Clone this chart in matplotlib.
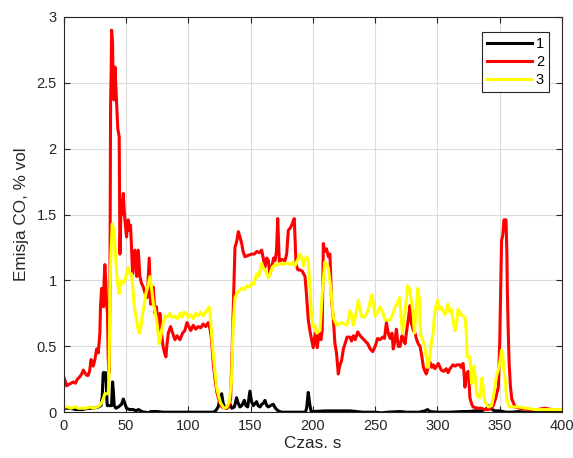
import matplotlib
matplotlib.use("Agg")
import matplotlib.pyplot as plt

plt.rcParams['font.family'] = ['Liberation Sans', 'DejaVu Sans']

# Series 1 (black)
t1 = [0, 5, 10, 15, 20, 24, 28, 30, 31, 31.8, 33.7, 34.3, 35, 37, 38.5, 39.3, 40, 40.6, 42, 44, 46.5,
      47.9, 49, 50.5, 53, 56, 58, 60, 62, 64, 66, 68, 70, 75, 80, 90, 100, 110, 120, 122, 124, 125.5,
      126.8, 128, 129.5, 130.9, 133.6, 135, 137, 138.8, 140, 141.5, 143, 145, 146.3, 147.7, 149.5,
      150.8, 152.2, 154.9, 156, 157.6, 159, 160.5, 161.6, 163, 164.3, 166, 168.2, 170, 172.2, 175,
      185, 194, 195, 196.3, 197.5, 198.5, 200, 210, 220, 230, 240, 250, 255, 260, 270, 275, 285, 290,
      292, 294, 300, 310, 320, 325, 330, 335, 338, 340, 341, 342, 344, 346, 350, 355, 360, 365, 370,
      380, 390, 400]
v1 = [0.03, 0.03, 0.02, 0.02, 0.03, 0.03, 0.04, 0.05, 0.12, 0.30, 0.30, 0.20, 0.05, 0.05, 0.05, 0.23,
      0.15, 0.05, 0.03, 0.04, 0.06, 0.10, 0.07, 0.03, 0.02, 0.02, 0.01, 0.02, 0.01, 0.0, 0.0, -0.005,
      0.005, 0.005, 0.0, 0.0, 0.0, 0.0, 0.0, 0.01, 0.04, 0.10, 0.14, 0.07, 0.03, 0.03, 0.06, 0.03,
      0.04, 0.11, 0.07, 0.04, 0.05, 0.09, 0.05, 0.04, 0.16, 0.08, 0.05, 0.08, 0.05, 0.04, 0.06, 0.07,
      0.09, 0.05, 0.04, 0.05, 0.06, 0.03, 0.01, 0.0, 0.0, 0.0, 0.03, 0.15, 0.06, 0.01, 0.005, 0.01,
      0.01, 0.01, 0.0, 0.0, -0.005, 0.0, 0.005, 0.0, 0.0, 0.01, 0.02, 0.005, 0.0, 0.0, 0.005, 0.005,
      0.01, 0.01, 0.02, 0.03, 0.05, 0.03, 0.02, 0.01, 0.01, 0.0, 0.0, 0.005, 0.0, 0.0, 0.0, 0.0]

# Series 2 (red)
t2 = [0, 1.5, 2.4, 4, 6, 7.7, 9.5, 11, 13.1, 14.5, 15.8, 17, 18.5, 19.8, 21, 22, 23, 23.8, 25.1, 26.5,
      27.8, 29.1, 29.6, 30.5, 31.3, 32, 32.5, 33.1, 33.8, 34.5, 35.2, 35.8, 36.6, 37.2, 37.7, 38.2,
      38.5, 39.3, 39.8, 40.4, 41.2, 42.0, 42.5, 43.5, 44.6, 45.2, 45.8, 46.5, 47.2, 47.9, 48.5, 49.2,
      50.5, 51.2, 51.9, 52.8, 53.7, 54.5, 55.4, 56.3, 57.2, 58.6, 59.9, 61.2, 62.5, 63.9, 65.5, 67.1,
      68.7, 69.8, 71, 71.9, 73.3, 74.5, 76, 77.3, 78.5, 80, 81, 82.1, 83, 84, 85.8, 87.5, 89.3, 91,
      93.3, 95.5, 97.3, 99, 100, 102, 104, 106, 108, 110, 112, 114, 116, 117.5, 118.7, 120, 121.5,
      123, 125, 127, 130, 132.5, 134, 135, 136.5, 137.5, 139, 140.2, 141.5, 142.9, 144, 145.5, 148,
      150.9, 153, 155, 157, 158.9, 160, 161.6, 163, 164.3, 165.5, 167, 168.5, 169.6, 170.8, 171.8,
      173.1, 175, 177.6, 179, 180.3, 182, 183, 185.1, 186.5, 188, 189.7, 191.5, 193.7, 195, 196.3,
      198, 200.3, 202, 203.5, 205, 206.5, 207.5, 208.4, 209.5, 211, 212.5, 213.7, 215, 216.5, 217.7,
      219, 220.4, 221.5, 223, 224.5, 225.8, 227.5, 229.8, 231, 232.5, 234, 236, 238, 240, 242, 244,
      246, 248, 250, 252, 254, 256, 257.5, 259, 260.5, 262, 263.5, 264.5, 266, 267, 268.5, 270,
      271.5, 272.7, 274, 275, 276.5, 278, 279, 280.6, 282, 283, 284.5, 286, 287.5, 288.7, 290, 291,
      292.5, 294, 295.5, 296.6, 298, 300.6, 303, 305, 307, 308.5, 310, 312.5, 314, 316, 317.8, 319,
      320.5, 321.3, 322, 323, 324.6, 325.5, 326, 327.5, 328.6, 332, 335, 338, 340.7, 343, 344.7,
      346.5, 348.8, 350, 351.4, 352.5, 353.3, 355, 355.7, 356, 356.8, 357.5, 358.5, 359.6, 362.3,
      366, 373, 380, 386, 392, 400]
v2 = [0.27, 0.23, 0.20, 0.21, 0.22, 0.23, 0.22, 0.25, 0.27, 0.29, 0.32, 0.30, 0.28, 0.28, 0.32, 0.40,
      0.38, 0.35, 0.40, 0.48, 0.45, 0.60, 0.80, 0.94, 0.90, 0.80, 1.00, 1.12, 1.00, 0.82, 0.75, 0.40,
      0.30, 1.00, 2.34, 2.60, 2.90, 2.80, 2.40, 2.37, 2.62, 2.45, 2.34, 2.15, 2.09, 1.20, 1.45, 1.61,
      1.50, 1.66, 1.55, 1.46, 1.33, 1.42, 1.46, 1.38, 1.42, 1.25, 1.05, 1.20, 1.23, 1.03, 1.23, 1.03,
      0.98, 0.95, 0.90, 0.87, 1.17, 0.82, 0.90, 0.95, 0.75, 0.80, 0.62, 0.75, 0.60, 0.49, 0.45, 0.42,
      0.52, 0.60, 0.65, 0.60, 0.55, 0.58, 0.55, 0.60, 0.62, 0.68, 0.66, 0.62, 0.66, 0.63, 0.65, 0.64,
      0.67, 0.65, 0.68, 0.63, 0.55, 0.38, 0.25, 0.15, 0.08, 0.04, 0.03, 0.04, 0.10, 0.40, 0.90, 1.25,
      1.30, 1.37, 1.33, 1.28, 1.22, 1.18, 1.19, 1.20, 1.20, 1.22, 1.21, 1.23, 1.18, 1.10, 1.17, 1.15,
      1.05, 1.10, 1.17, 1.15, 1.22, 1.47, 1.14, 1.16, 1.15, 1.20, 1.38, 1.40, 1.42, 1.47, 1.12, 1.08,
      1.08, 1.07, 1.03, 0.88, 0.70, 0.60, 0.49, 0.60, 0.49, 0.60, 0.55, 0.62, 1.28, 1.22, 1.24, 1.18,
      1.20, 0.85, 0.70, 0.52, 0.45, 0.29, 0.35, 0.39, 0.48, 0.52, 0.57, 0.57, 0.54, 0.58, 0.55, 0.61,
      0.58, 0.56, 0.54, 0.52, 0.48, 0.46, 0.50, 0.56, 0.55, 0.57, 0.56, 0.68, 0.60, 0.56, 0.60, 0.48,
      0.55, 0.63, 0.50, 0.50, 0.58, 0.55, 0.52, 0.60, 0.70, 0.81, 0.68, 0.62, 0.60, 0.56, 0.52, 0.50,
      0.42, 0.34, 0.31, 0.29, 0.34, 0.38, 0.34, 0.36, 0.33, 0.37, 0.32, 0.31, 0.33, 0.30, 0.33, 0.36,
      0.35, 0.36, 0.36, 0.34, 0.37, 0.30, 0.19, 0.28, 0.31, 0.20, 0.11, 0.06, 0.04, 0.03, 0.03, 0.02,
      0.02, 0.03, 0.05, 0.10, 0.19, 0.55, 1.30, 1.35, 1.46, 1.46, 1.20, 0.95, 0.60, 0.37, 0.20, 0.10,
      0.04, 0.03, 0.02, 0.02, 0.03, 0.02, 0.02]

# Series 3 (yellow)
t3 = [0, 3, 6, 9, 12, 15, 18, 21, 24, 27, 29, 31, 33.1, 35.8, 36.5, 37.1, 38, 39, 39.8, 40.6, 41.2,
      41.9, 43, 44.6, 45.5, 46.5, 48, 49.2, 50.5, 51.9, 53, 54.5, 55.5, 56.3, 57.2, 58.5, 60, 60.7,
      62, 63.4, 64.5, 66, 67.5, 69.3, 70.5, 71.9, 73, 74.6, 75.6, 76.7, 77.6, 78.6, 80, 81.3, 83,
      85.3, 87, 89.3, 91, 93.3, 95, 96.8, 98.7, 100, 102, 104, 106, 108, 110, 112, 114, 115.5, 116.6,
      117.5, 118.7, 120, 121.5, 123, 124.5, 126, 128, 129.4, 131, 133, 134.8, 136, 137.5, 139, 140.5,
      142.9, 145, 147, 149, 150.9, 152.5, 154.9, 156.5, 158.9, 160, 161.6, 163, 164.3, 166, 167.5,
      169.6, 172, 174, 176, 177.6, 180, 182, 184, 185.6, 187.5, 189.7, 191, 192.4, 193.5, 195, 196.2,
      197.7, 198.8, 200.3, 201.5, 203, 205.7, 207.5, 208.4, 209.6, 211.1, 212.3, 213.7, 214.8, 216.4,
      219.1, 221, 223, 225, 227, 228.5, 229.8, 231, 232.4, 234, 235.5, 236.5, 237.8, 239, 241, 243,
      245, 246.5, 247.5, 249, 250, 252, 254, 256, 258, 260, 262, 264, 266, 267.5, 269.6, 271, 272,
      273.5, 275, 276, 277.5, 279, 280.5, 281.5, 283, 284.3, 285.5, 286.4, 288, 289.7, 291, 292.4,
      293.5, 295, 296.5, 297.5, 298.6, 300, 301, 302, 303, 305, 306, 307.5, 308.5, 310, 311, 312.5,
      314, 315, 316.5, 318, 319, 320.5, 322, 323.2, 323.8, 326, 327.3, 328.3, 329.4, 330.5, 331.3,
      332.5, 334, 335, 335.8, 337, 338, 340.7, 343.4, 344.5, 346, 347.5, 348.8, 350, 351.4, 352.3,
      353, 354.3, 355.6, 357, 358, 365, 372, 378.5, 385, 392, 400]
v3 = [0.04, 0.04, 0.03, 0.04, 0.03, 0.03, 0.03, 0.04, 0.03, 0.04, 0.05, 0.08, 0.14, 0.14, 0.30, 0.90,
      1.20, 1.43, 1.40, 1.37, 1.25, 1.15, 1.00, 0.90, 0.95, 1.00, 0.98, 1.00, 1.05, 1.10, 1.05, 1.05,
      0.95, 0.85, 0.77, 0.70, 0.62, 0.60, 0.65, 0.75, 0.80, 0.90, 0.95, 1.03, 0.95, 0.83, 0.78, 0.70,
      0.62, 0.52, 0.55, 0.62, 0.68, 0.73, 0.72, 0.75, 0.72, 0.73, 0.71, 0.75, 0.72, 0.76, 0.75, 0.72,
      0.74, 0.71, 0.75, 0.73, 0.76, 0.73, 0.76, 0.78, 0.80, 0.76, 0.60, 0.45, 0.30, 0.18, 0.12, 0.07,
      0.04, 0.03, 0.04, 0.08, 0.25, 0.65, 0.87, 0.90, 0.92, 0.94, 0.93, 0.96, 0.95, 0.98, 0.97, 1.05,
      1.03, 1.13, 1.10, 1.08, 1.05, 1.02, 1.06, 1.10, 1.12, 1.12, 1.13, 1.12, 1.13, 1.13, 1.12, 1.14,
      1.11, 1.15, 1.20, 1.17, 1.11, 1.15, 1.18, 1.16, 0.95, 0.75, 0.65, 0.66, 0.60, 0.62, 0.90, 1.00,
      1.14, 1.12, 1.10, 1.00, 0.90, 0.72, 0.66, 0.67, 0.68, 0.67, 0.66, 0.70, 0.77, 0.74, 0.66, 0.72,
      0.80, 0.85, 0.78, 0.73, 0.72, 0.74, 0.80, 0.86, 0.89, 0.80, 0.73, 0.76, 0.80, 0.76, 0.70, 0.70,
      0.70, 0.74, 0.80, 0.82, 0.87, 0.70, 0.60, 0.72, 0.85, 0.96, 0.94, 0.85, 0.75, 0.60, 0.80, 0.94,
      0.85, 0.60, 0.55, 0.50, 0.42, 0.34, 0.40, 0.52, 0.60, 0.72, 0.80, 0.85, 0.80, 0.78, 0.80, 0.76,
      0.74, 0.79, 0.82, 0.76, 0.78, 0.70, 0.62, 0.65, 0.78, 0.76, 0.74, 0.73, 0.72, 0.60, 0.42, 0.42,
      0.22, 0.30, 0.35, 0.25, 0.15, 0.12, 0.11, 0.20, 0.26, 0.15, 0.08, 0.04, 0.05, 0.10, 0.19, 0.28,
      0.32, 0.38, 0.47, 0.45, 0.34, 0.25, 0.10, 0.05, 0.04, 0.04, 0.03, 0.02, 0.02, 0.02, 0.02]

labels = ["1", "2", "3"]
colors = ["#000000", "#ff0000", "#ffff00"]

fig = plt.figure(figsize=(5.73, 4.58), dpi=100)
ax = fig.add_axes([0.111, 0.1, 0.87, 0.863])

for t, v, lab, c in zip([t1, t2, t3], [v1, v2, v3], labels, colors):
    ax.plot(t, v, color=c, linewidth=2.2, label=lab)

ax.set_xlim(0, 400)
ax.set_ylim(0, 3)
ax.set_xticks([0, 50, 100, 150, 200, 250, 300, 350, 400])
ax.set_yticks([0, 0.5, 1, 1.5, 2, 2.5, 3])
ax.set_yticklabels(["0", "0.5", "1", "1.5", "2", "2.5", "3"])
ax.grid(True, color="#dcdcdc", linewidth=0.8)
ax.set_axisbelow(True)
ax.tick_params(direction="in", top=True, right=True, length=4, width=0.8,
               colors="#262626", labelsize=10.5, pad=5)
for s in ax.spines.values():
    s.set_color("#262626")
    s.set_linewidth(0.8)

ax.set_xlabel("Czas. s", fontsize=12.3, color="#262626", labelpad=2)
ax.set_ylabel("Emisja CO, % vol", fontsize=12.3, color="#262626", labelpad=5)

leg = ax.legend(loc="upper right", bbox_to_anchor=(0.974, 0.961), borderaxespad=0,
                fontsize=10.5, handlelength=3.1, handletextpad=0.25, labelspacing=0.25,
                borderpad=0.35, fancybox=False, framealpha=1)
leg.get_frame().set_edgecolor("#262626")
leg.get_frame().set_linewidth(0.8)

fig.savefig("out.png", dpi=100)
